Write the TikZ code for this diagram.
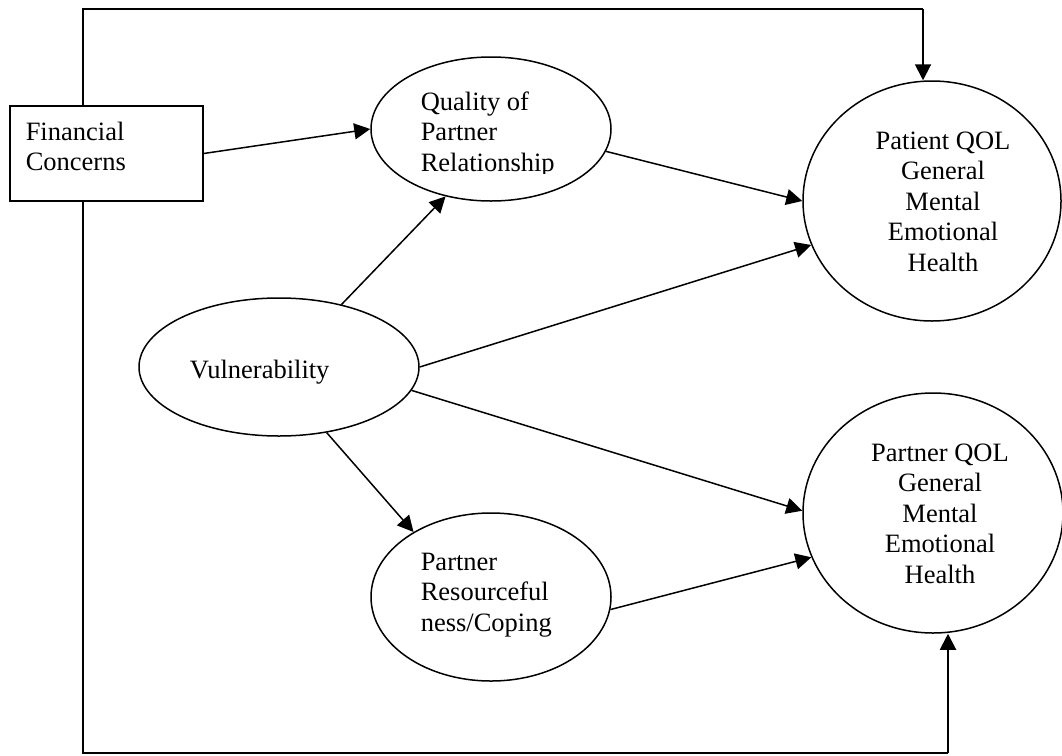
\documentclass[tikz,border=0pt]{standalone}
\usepackage{fontspec}
\setmainfont{Liberation Serif}
\usetikzlibrary{shapes.geometric,arrows.meta}
\tikzset{
  every picture/.style={line width=1.5pt},
  oval/.style={ellipse, draw, inner sep=0pt, line width=1.5pt},
  boxnode/.style={rectangle, draw, inner sep=0pt, line width=1.5pt},
  txt/.style={anchor=base west, inner sep=0pt, font=\fontsize{26.5}{30.5}\selectfont},
  ctxt/.style={anchor=base, inner sep=0pt, font=\fontsize{26.5}{30.5}\selectfont},
  arr/.style={-{Triangle[length=16pt,width=16pt]}, line width=1.5pt},
  feed/.style={line width=2pt}
}
\begin{document}
\begin{tikzpicture}[x=1pt,y=-1pt]
\useasboundingbox (0,0) rectangle (1062,755);
% shapes
\node[boxnode, minimum width=193pt, minimum height=95pt] (fin) at (106.5,153.5) {};
\node[oval, minimum width=240pt, minimum height=144pt] (qual) at (491,129) {};
\node[oval, minimum width=258pt, minimum height=240pt] (pat) at (932,201) {};
\node[oval, minimum width=280pt, minimum height=138pt] (vul) at (279,367) {};
\node[oval, minimum width=260pt, minimum height=240pt] (part) at (933,513) {};
\node[oval, minimum width=240pt, minimum height=168pt] (res) at (491,597) {};
% texts
\node[txt] (fintxt) at (25,140) {\begin{tabular}[t]{@{}l@{}}Financial\\Concerns\end{tabular}};
\begin{scope}
\clip (400,40) rectangle (620,173);
\node[txt] (qualtxt) at (420,110) {\begin{tabular}[t]{@{}l@{}}Quality of\\Partner\\Relationship\end{tabular}};
\end{scope}
\node[ctxt] (pattxt) at (943,149) {\begin{tabular}[t]{@{}c@{}}Patient QOL\\General\\Mental\\Emotional\\Health\end{tabular}};
\node[txt] (vultxt) at (189,378) {Vulnerability};
\node[ctxt] (parttxt) at (940,461) {\begin{tabular}[t]{@{}c@{}}Partner QOL\\General\\Mental\\Emotional\\Health\end{tabular}};
\node[txt] (restxt) at (420,570) {\begin{tabular}[t]{@{}l@{}}Partner\\Resourceful\\ness/Coping\end{tabular}};
% connectors
\draw[arr] (fin.east) -- (qual.west);
\draw[arr] (qual.-11) -- (pat.180);
\draw[arr] (vul.45) -- (qual.236);
\draw[arr] (vul.east) -- (pat.200);
\draw[arr] (vul.-10) -- (part.179);
\draw[arr] (vul.-54) -- (res.140);
\draw[arr] (res.-6) -- (part.200);
% feedback paths
\coordinate (tl) at (83,9);
\coordinate (tr) at (923,9);
\coordinate (bl) at (83,753);
\coordinate (br) at (948,753);
\draw[feed] (fin.north -| tl) -- (tl) -- (tr);
\draw[arr, line width=2pt] (tr) -- (tr |- pat.north);
\draw[feed] (fin.south -| bl) -- (bl) -- (br);
\draw[arr, line width=2pt] (br) -- (br |- part.south);
\end{tikzpicture}
\end{document}
